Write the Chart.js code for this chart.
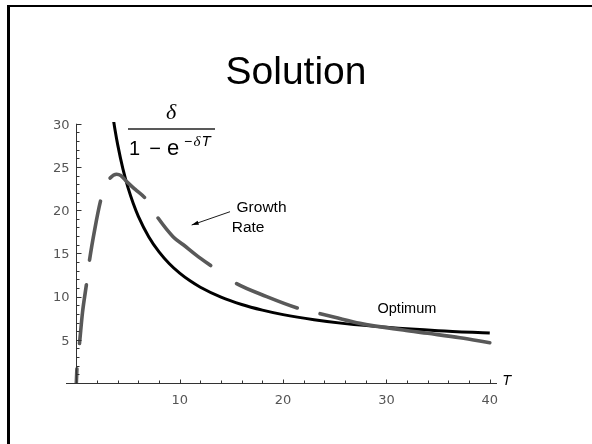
<!DOCTYPE html>
<html>
<head>
<meta charset="utf-8">
<script src="https://cdn.jsdelivr.net/npm/chart.js@4"></script>
<style>
  html, body { margin: 0; padding: 0; background: #fff; }
  #wrap { position: relative; width: 592px; height: 444px; overflow: hidden; }
  #frame { position: absolute; left: 7px; top: 5px; width: 700px; height: 600px;
           border-left: 3px solid #000; border-top: 2px solid #000; box-sizing: border-box; pointer-events: none; }
  canvas { position: absolute; left: 0; top: 0; }
</style>
</head>
<body>
<div id="wrap">
  <canvas id="c" width="592" height="444"></canvas>
  <div id="frame"></div>
</div>
<script>
// ---- data ----
const growthT    = [0, 0.07, 0.29, 0.6, 1.0, 1.25, 1.8, 2.39, 2.8, 3.19, 3.9, 4.3, 4.87, 5.7, 6.64, 7.78, 9.38, 10.35, 11.6, 13.1, 15.35, 18.42, 21.47, 23.41, 25.0, 27.44, 31.63, 34.0, 37.12, 40.0];
const growthRate = [0, 2.0, 4.4, 8.2, 11.6, 14.0, 17.9, 21.3, 22.8, 23.6, 24.15, 24.0, 23.3, 22.4, 21.4, 19.3, 16.9, 16.0, 14.8, 13.5, 11.6, 10.0, 8.65, 8.07, 7.6, 6.9, 6.13, 5.75, 5.24, 4.66];

const optimumT    = [3.5, 3.75, 4, 4.5, 5, 5.5, 6, 7, 8, 9, 10, 11, 12, 14, 16, 18, 20, 23, 26, 30, 35, 40];
const optimumRate = [31.15, 29.24, 27.58, 24.81, 22.60, 20.80, 19.29, 16.93, 15.17, 13.80, 12.71, 11.82, 11.08, 9.93, 9.08, 8.43, 7.91, 7.32, 6.87, 6.44, 6.05, 5.78];

const xTickLabels = [10, 20, 30, 40];
const xMinorTicks = [2, 4, 6, 8, 12, 14, 16, 18, 22, 24, 26, 28, 32, 34, 36, 38];
const yTickLabels = [5, 10, 15, 20, 25, 30];
const yMinorTicks = [1, 2, 3, 4, 6, 7, 8, 9, 11, 12, 13, 14, 16, 17, 18, 19, 21, 22, 23, 24, 26, 27, 28, 29];

const titleText = 'Solution';

// ---- build datasets ----
const growthPts  = growthT.map((t, i) => ({ x: t, y: growthRate[i] }));
const optimumPts = optimumT.map((t, i) => ({ x: t, y: optimumRate[i] }));

// irregular dash pattern of the original plot (style only)
const growthDash = [14.2, 25.6, 59, 24.8, 59.9, 25.3, 44.4, 24.6, 71.4, 31.6, 65.4, 23.6, 3000, 1];

const deco = {
  id: 'deco',
  afterDraw(chart) {
    const ctx = chart.ctx;
    const xs = chart.scales.x, ys = chart.scales.y;
    const X = v => xs.getPixelForValue(v);
    const Y = v => ys.getPixelForValue(v);
    ctx.save();

    // title
    ctx.fillStyle = '#000';
    ctx.font = '39px "Liberation Sans", Arial, sans-serif';
    ctx.textAlign = 'center';
    ctx.textBaseline = 'alphabetic';
    ctx.fillText(titleText, 296, 84);

    // axes lines
    ctx.strokeStyle = '#333';
    ctx.lineWidth = 1;
    const x0 = Math.round(X(0)) + 0.5, y0 = Math.round(Y(0)) + 0.5;
    ctx.beginPath();
    ctx.moveTo(xs.left, y0); ctx.lineTo(xs.right, y0);
    ctx.moveTo(x0, y0); ctx.lineTo(x0, Y(30));
    ctx.stroke();

    // ticks
    ctx.beginPath();
    xMinorTicks.forEach(v => { const px = Math.round(X(v)) + 0.5; ctx.moveTo(px, y0); ctx.lineTo(px, y0 - 3); });
    xTickLabels.forEach(v => { const px = Math.round(X(v)) + 0.5; ctx.moveTo(px, y0); ctx.lineTo(px, y0 - 4); });
    yMinorTicks.forEach(v => { const py = Math.round(Y(v)) + 0.5; ctx.moveTo(x0, py); ctx.lineTo(x0 + 3, py); });
    yTickLabels.forEach(v => { const py = Math.round(Y(v)) + 0.5; ctx.moveTo(x0, py); ctx.lineTo(x0 + 5, py); });
    ctx.stroke();

    // tick labels
    ctx.fillStyle = '#555';
    ctx.font = '13px "DejaVu Sans", sans-serif';
    ctx.textAlign = 'center';
    xTickLabels.forEach(v => ctx.fillText(String(v), X(v), y0 + 20));
    ctx.textAlign = 'right';
    yTickLabels.forEach(v => ctx.fillText(String(v), x0 - 7, Y(v) + 4.8));

    // axis label T
    ctx.fillStyle = '#000';
    ctx.textAlign = 'left';
    ctx.font = 'italic 14.5px "Liberation Sans", Arial, sans-serif';
    ctx.fillText('T', X(41.2), y0 + 1);

    // Growth Rate label + arrow
    ctx.font = '15.5px "Liberation Sans", Arial, sans-serif';
    ctx.fillText('Growth', X(15.5), Y(19.82));
    ctx.fillText('Rate', X(15.03), Y(17.51));
    const ax1 = X(14.87), ay1 = Y(19.82), ax2 = X(11.16), ay2 = Y(18.28);
    ctx.strokeStyle = '#000';
    ctx.lineWidth = 0.9;
    ctx.beginPath(); ctx.moveTo(ax1, ay1); ctx.lineTo(ax2, ay2); ctx.stroke();
    const ang = Math.atan2(ay2 - ay1, ax2 - ax1);
    ctx.beginPath();
    ctx.moveTo(ax2, ay2);
    ctx.lineTo(ax2 - 7 * Math.cos(ang) + 2.2 * Math.sin(ang), ay2 - 7 * Math.sin(ang) - 2.2 * Math.cos(ang));
    ctx.lineTo(ax2 - 7 * Math.cos(ang) - 2.2 * Math.sin(ang), ay2 - 7 * Math.sin(ang) + 2.2 * Math.cos(ang));
    ctx.closePath();
    ctx.fillStyle = '#000';
    ctx.fill();

    // Optimum label
    ctx.font = '14.5px "Liberation Sans", Arial, sans-serif';
    ctx.fillText('Optimum', X(29.14), Y(8.1));

    // formula  delta / (1 - e^{-delta T})
    ctx.font = 'italic 22px "Liberation Serif", "Times New Roman", serif';
    ctx.textAlign = 'center';
    ctx.fillText('δ', 171, 119);
    ctx.strokeStyle = '#222';
    ctx.lineWidth = 1.3;
    ctx.beginPath(); ctx.moveTo(128, 129); ctx.lineTo(215, 129); ctx.stroke();
    ctx.font = '20px "Liberation Sans", Arial, sans-serif';
    ctx.fillText('1', 134.5, 155);
    ctx.fillText('−', 155, 155);
    ctx.font = '22px "Liberation Sans", Arial, sans-serif';
    ctx.textAlign = 'left';
    ctx.fillText('e', 167, 155);
    ctx.font = '14px "Liberation Sans", Arial, sans-serif';
    ctx.fillText('−', 184, 146);
    ctx.font = 'italic 15px "Liberation Serif", "Times New Roman", serif';
    ctx.fillText('δ', 193.5, 146);
    ctx.font = 'italic 15px "Liberation Sans", Arial, sans-serif';
    ctx.fillText('T', 201.5, 146);

    ctx.restore();
  }
};

new Chart(document.getElementById('c'), {
  type: 'line',
  data: {
    datasets: [
      {
        label: 'Growth Rate',
        data: growthPts,
        borderColor: '#595959',
        borderWidth: 3.6,
        borderDash: growthDash,
        borderDashOffset: 0,
        borderCapStyle: 'round',
        pointRadius: 0,
        cubicInterpolationMode: 'monotone',
        fill: false
      },
      {
        label: 'Optimum',
        data: optimumPts,
        borderColor: '#000',
        borderWidth: 3,
        pointRadius: 0,
        cubicInterpolationMode: 'monotone',
        fill: false
      }
    ]
  },
  options: {
    responsive: false,
    animation: false,
    devicePixelRatio: 1,
    layout: { padding: { left: 66, right: 95, top: 122, bottom: 61 } },
    plugins: { legend: { display: false }, tooltip: { enabled: false }, title: { display: false } },
    scales: {
      x: { type: 'linear', min: -1, max: 40.7, display: false },
      y: { type: 'linear', min: 0, max: 30.2, display: false }
    }
  },
  plugins: [deco]
});
</script>
</body>
</html>
